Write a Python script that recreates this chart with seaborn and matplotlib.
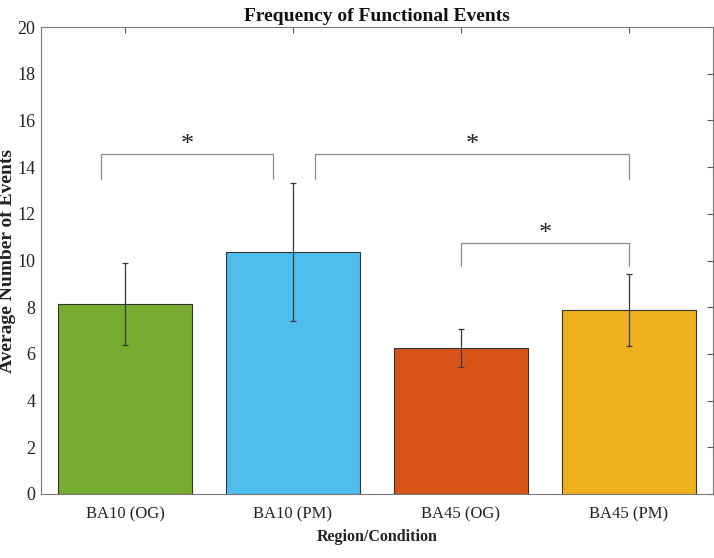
import matplotlib.pyplot as plt
import pandas as pd
import numpy as np
import seaborn as sns

# data
conditions = ['BA10 (OG)', 'BA10 (PM)', 'BA45 (OG)', 'BA45 (PM)']
mean_events = [8.15, 10.38, 6.26, 7.88]
err_low = [6.40, 7.42, 5.45, 6.35]
err_high = [9.90, 13.30, 7.07, 9.42]
bar_colors = ['#77AC30', '#4DBEEE', '#D95319', '#EDB120']

# significance brackets: (x left, x right, top y, leg bottom y)
bracket_x0 = [-0.14, 1.13, 2.0]
bracket_x1 = [0.88, 3.0, 3.0]
bracket_top = [14.58, 14.58, 10.77]
bracket_leg = [13.5, 13.5, 9.75]
bracket_label = ['*', '*', '*']

df = pd.DataFrame({'Condition': conditions, 'Events': mean_events})

sns.set_theme(style='white')
plt.rcParams['font.family'] = ['Liberation Serif', 'DejaVu Serif']

fig = plt.figure(figsize=(7.14, 5.58), dpi=100)
ax = fig.add_axes([0.0574, 0.1147, 0.9412, 0.8369])

sns.barplot(data=df, x='Condition', y='Events', hue='Condition',
            palette=bar_colors, width=0.8, edgecolor='#333333',
            linewidth=0.8, legend=False, errorbar=None, ax=ax, saturation=1)

x = np.arange(len(conditions))
mean_arr = np.array(mean_events)
yerr = [mean_arr - np.array(err_low), np.array(err_high) - mean_arr]
ax.errorbar(x, mean_arr, yerr=yerr, fmt='none', ecolor='#3a3a3a',
            elinewidth=0.9, capsize=2, capthick=0.9)

grey = '#8c8c8c'
for x0, x1, top, leg, lab in zip(bracket_x0, bracket_x1, bracket_top, bracket_leg, bracket_label):
    ax.plot([x0, x0, x1, x1], [leg, top, top, leg], color=grey, lw=0.9)
    ax.text((x0 + x1) / 2, top + 0.1, lab, ha='center', va='baseline',
            fontsize=19, color='#222222')

ax.set_xlim(-0.5, 3.5)
ax.set_ylim(0, 20)
ax.set_yticks(np.arange(0, 21, 2))
ax.tick_params(axis='both', direction='in', length=4, width=0.8,
               colors='#555555', labelcolor='#222222',
               top=True, right=True)
ax.tick_params(axis='y', labelsize=13, pad=4)
ax.tick_params(axis='x', labelsize=12, pad=9)
for sp in ax.spines.values():
    sp.set_color('#7a7a7a')
    sp.set_linewidth(0.8)

ax.set_title('Frequency of Functional Events', fontsize=14, fontweight='bold',
             color='#111111', pad=4)
ax.set_xlabel('Region/Condition', fontsize=11.5, fontweight='bold', color='#222222', labelpad=5)
ax.set_ylabel('Average Number of Events', fontsize=14, fontweight='bold', color='#222222')
ax.yaxis.set_label_coords(-0.037, 0.5)

plt.savefig('out.png', dpi=100)
